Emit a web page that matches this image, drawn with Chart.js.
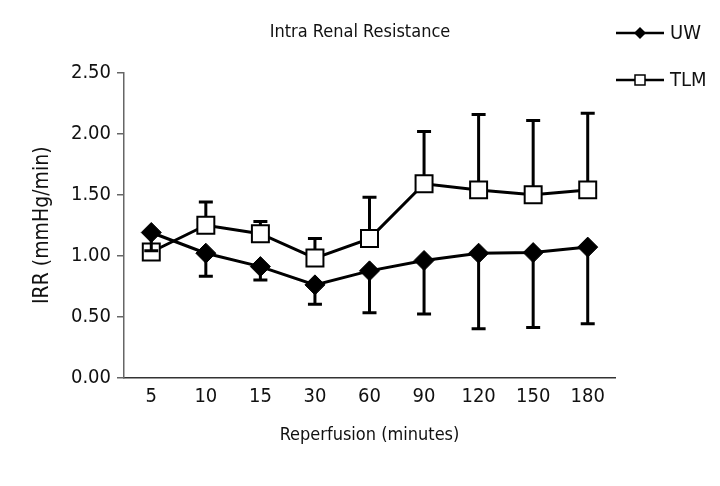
<!DOCTYPE html>
<html>
<head>
<meta charset="utf-8">
<script src="https://cdn.jsdelivr.net/npm/chart.js@4"></script>
<style>
html, body { margin: 0; padding: 0; background: #fff; }
#wrap { width: 720px; height: 486px; }
</style>
</head>
<body>
<div id="wrap"><canvas id="irr"></canvas></div>
<script>
// data
const chartTitle = 'Intra Renal Resistance';
const minutes = ['5', '10', '15', '30', '60', '90', '120', '150', '180'];
const uwMean  = [1.19, 1.02, 0.91, 0.76, 0.875, 0.96, 1.02, 1.025, 1.07];
const uwLow   = [1.04, 0.83, 0.80, 0.60, 0.53, 0.52, 0.40, 0.41, 0.44];
const tlmMean = [1.03, 1.25, 1.18, 0.98, 1.14, 1.59, 1.54, 1.50, 1.54];
const tlmHigh = [1.05, 1.44, 1.28, 1.14, 1.48, 2.02, 2.16, 2.11, 2.17];
const yTicks  = [0, 0.5, 1, 1.5, 2, 2.5];

const FONT = '"DejaVu Sans Condensed", "DejaVu Sans", sans-serif';
const INK = '#111';

// error bars, drawn just before each dataset so markers sit on top
const errorBars = {
    id: 'errorBars',
    beforeDatasetDraw(chart, args) {
        const ds = chart.data.datasets[args.index];
        const ends = ds.errLow || ds.errHigh;
        if (!ends) return;
        const ctx = chart.ctx;
        const x = chart.scales.x, y = chart.scales.y;
        ctx.save();
        ctx.strokeStyle = '#000';
        ctx.lineWidth = 3;
        ends.forEach(function(v, i) {
            const px = x.getPixelForValue(i);
            const p0 = y.getPixelForValue(ds.data[i]);
            const p1 = y.getPixelForValue(v);
            ctx.beginPath();
            ctx.moveTo(px, p0);
            ctx.lineTo(px, p1);
            ctx.moveTo(px - 7, p1);
            ctx.lineTo(px + 7, p1);
            ctx.stroke();
        });
        ctx.restore();
    }
};

// title centred on the canvas, legend at the top right outside the plot
const sideLegend = {
    id: 'sideLegend',
    afterDraw(chart) {
        const ctx = chart.ctx;
        ctx.save();
        ctx.fillStyle = INK;
        ctx.font = '18px ' + FONT;
        ctx.textAlign = 'center';
        ctx.textBaseline = 'middle';
        ctx.fillText(chartTitle, chart.width / 2, 32);

        const x0 = chart.chartArea.right + 1;
        const rows = [33, 80];
        ctx.textAlign = 'left';
        chart.data.datasets.forEach(function(ds, i) {
            const yy = rows[i];
            ctx.strokeStyle = '#000';
            ctx.lineWidth = 2.5;
            ctx.beginPath();
            ctx.moveTo(x0, yy);
            ctx.lineTo(x0 + 48, yy);
            ctx.stroke();
            const cx = x0 + 24;
            ctx.beginPath();
            if (ds.pointStyle === 'rectRot') {
                ctx.moveTo(cx, yy - 6);
                ctx.lineTo(cx + 6, yy);
                ctx.lineTo(cx, yy + 6);
                ctx.lineTo(cx - 6, yy);
                ctx.closePath();
                ctx.fillStyle = '#000';
                ctx.fill();
            } else {
                ctx.rect(cx - 5, yy - 5, 10, 10);
                ctx.fillStyle = '#fff';
                ctx.fill();
                ctx.lineWidth = 1.5;
                ctx.stroke();
            }
            ctx.fillStyle = INK;
            ctx.font = '20px ' + FONT;
            ctx.fillText(ds.label, x0 + 54, yy + 1);
        });
        ctx.restore();
    }
};

const config = {
    type: 'line',
    data: {
        labels: minutes,
        datasets: [{
            label: 'UW',
            data: uwMean,
            errLow: uwLow,
            borderColor: '#000',
            backgroundColor: '#000',
            borderWidth: 3,
            pointStyle: 'rectRot',
            pointRadius: 10,
            pointHoverRadius: 10,
            pointBackgroundColor: '#000',
            pointBorderColor: '#000',
            pointBorderWidth: 1
        }, {
            label: 'TLM',
            data: tlmMean,
            errHigh: tlmHigh,
            borderColor: '#000',
            backgroundColor: '#fff',
            borderWidth: 3,
            pointStyle: 'rect',
            pointRadius: 12,
            pointHoverRadius: 12,
            pointBackgroundColor: '#fff',
            pointBorderColor: '#000',
            pointBorderWidth: 2
        }]
    },
    options: {
        responsive: true,
        maintainAspectRatio: false,
        animation: false,
        events: [],
        layout: { padding: { left: 0, right: 105, top: 73, bottom: 40 } },
        plugins: {
            legend: { display: false },
            tooltip: { enabled: false },
            title: { display: false }
        },
        scales: {
            x: {
                offset: true,
                grid: { display: false, drawTicks: false },
                border: { color: '#333', width: 1.5 },
                ticks: { color: INK, font: { family: FONT, size: 20 }, padding: 7 },
                title: {
                    display: true,
                    text: 'Reperfusion (minutes)',
                    color: INK,
                    font: { family: FONT, size: 18 },
                    padding: { top: 9, bottom: 0 }
                }
            },
            y: {
                min: 0,
                max: 2.5,
                afterBuildTicks: function(s) { s.ticks = yTicks.map(v => ({ value: v })); },
                afterFit: function(s) { s.width = 124; },
                grid: { drawOnChartArea: false, drawTicks: true, tickLength: 7, color: '#666', lineWidth: 1.5 },
                border: { color: '#666', width: 1.5 },
                ticks: {
                    color: INK,
                    font: { family: FONT, size: 20 },
                    padding: 6,
                    callback: function(v) { return Number(v).toFixed(2); }
                },
                title: {
                    display: true,
                    text: 'IRR (mmHg/min)',
                    color: INK,
                    font: { family: FONT, size: 21 },
                    padding: { top: 30 }
                }
            }
        }
    },
    plugins: [errorBars, sideLegend]
};

const graph = new Chart(document.getElementById('irr'), config);
</script>
</body>
</html>
